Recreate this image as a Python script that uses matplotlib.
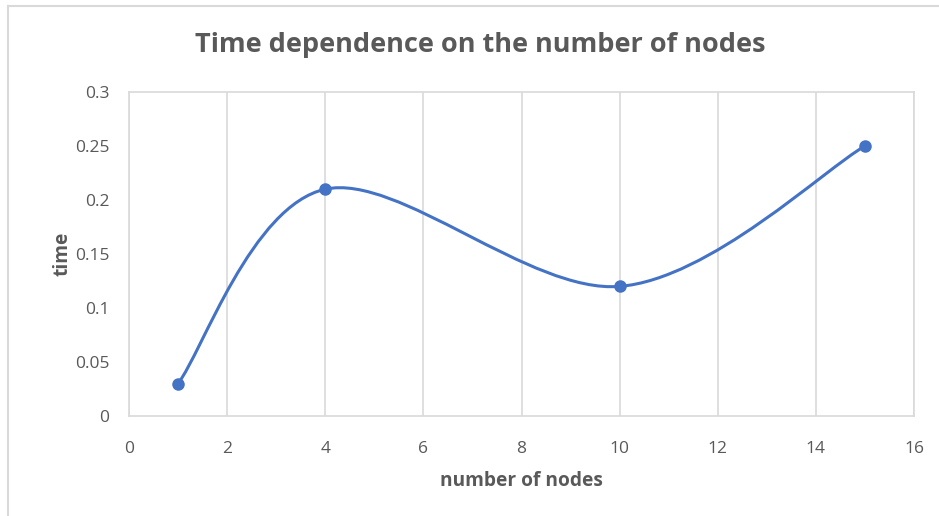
import matplotlib
matplotlib.use("Agg")
import matplotlib.pyplot as plt
import numpy as np
from matplotlib.path import Path
from matplotlib.patches import PathPatch
from matplotlib.lines import Line2D

nodes = [1, 4, 10, 15]
times = [0.03, 0.21, 0.12, 0.25]
xticks = [0, 2, 4, 6, 8, 10, 12, 14, 16]
yticks = [0, 0.05, 0.1, 0.15, 0.2, 0.25, 0.3]
ytick_labels = ["0", "0.05", "0.1", "0.15", "0.2", "0.25", "0.3"]

title = "Time dependence on the number of nodes"
xlabel = "number of nodes"
ylabel = "time"

txt = "#595959"
grid = "#d9d9d9"
blue = "#4472c4"
font = ["Open Sans", "DejaVu Sans"]

fig = plt.figure(figsize=(9.39, 5.16), dpi=100)
ax = fig.add_axes([129/939, 1-416/516, (914-129)/939, (416-92)/516])

# Excel-like smooth line (Catmull-Rom style Bezier through data points)
P = np.column_stack([nodes, times]).astype(float)
n = len(P)
verts = [tuple(P[0])]
codes = [Path.MOVETO]
for i in range(n - 1):
    p0 = P[max(i - 1, 0)]
    p1 = P[i]
    p2 = P[i + 1]
    p3 = P[min(i + 2, n - 1)]
    c1 = p1 + (p2 - p0) / 6.0
    c2 = p2 - (p3 - p1) / 6.0
    verts += [tuple(c1), tuple(c2), tuple(p2)]
    codes += [Path.CURVE4] * 3
ax.add_patch(PathPatch(Path(verts, codes), facecolor="none", edgecolor=blue,
                       lw=2.2, capstyle="round", zorder=3))
ax.plot(nodes, times, "o", color=blue, ms=8, zorder=4)

ax.set_xlim(0, 16)
ax.set_ylim(0, 0.3)
ax.set_xticks(xticks)
ax.set_yticks(yticks)
ax.set_yticklabels(ytick_labels)
ax.grid(axis="x", color=grid, lw=1.2)
ax.set_axisbelow(True)
for s in ax.spines.values():
    s.set_color(grid)
    s.set_linewidth(1.2)
ax.tick_params(length=0, labelsize=12.5, labelcolor=txt)
ax.tick_params(axis="y", pad=14)
ax.tick_params(axis="x", pad=18)
for lab in ax.get_xticklabels() + ax.get_yticklabels():
    lab.set_family(font)

ax.set_xlabel(xlabel, fontsize=13.8, fontweight="bold", color=txt, family=font, labelpad=10)
ax.set_ylabel(ylabel, fontsize=13.8, fontweight="bold", color=txt, family=font, labelpad=2)
fig.text(480/939, 1-45/516, title, ha="center", va="center", fontsize=19.5,
         fontweight="bold", color=txt, family=font)

# outer chart border (left and top visible)
fig.add_artist(Line2D([8/939, 8/939], [0, 1-6/516], transform=fig.transFigure, color=grid, lw=1.5))
fig.add_artist(Line2D([8/939, 1], [1-6/516, 1-6/516], transform=fig.transFigure, color=grid, lw=1.5))

fig.savefig("out.png", dpi=100)
